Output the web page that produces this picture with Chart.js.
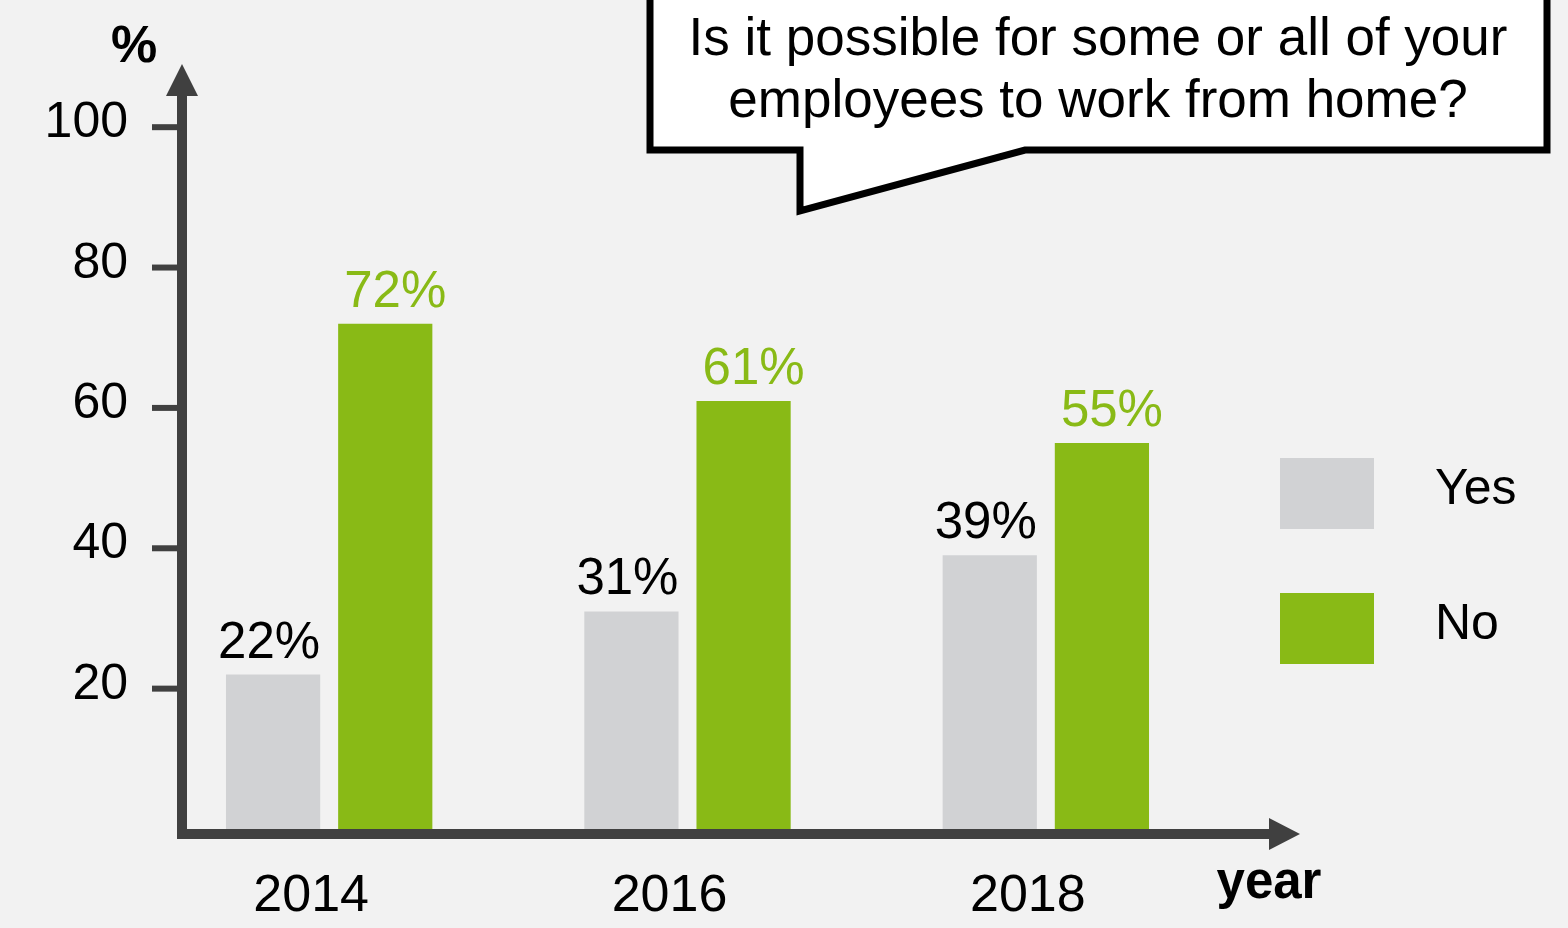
<!DOCTYPE html>
<html>
<head>
<meta charset="utf-8">
<title>Work from home</title>
<script src="https://cdn.jsdelivr.net/npm/chart.js@4/dist/chart.umd.min.js"></script>
<style>
  html, body { margin: 0; padding: 0; background: #f2f2f2; }
  canvas { display: block; }
</style>
</head>
<body>
<canvas id="myChart" width="1568" height="928"></canvas>
<script>
const years = ['2014', '2016', '2018']
const yesValues = [22, 31, 39]
const noValues = [72, 61, 55]
const yTicks = [20, 40, 60, 80, 100]
const seriesNames = ['Yes', 'No']
const questionLines = ['Is it possible for some or all of your', 'employees to work from home?']

const GRAY = '#d1d2d4'
const GREEN = '#89ba16'
const AXIS = '#404040'
const FONT = '"Liberation Sans", Arial, sans-serif'

// Background, axes with arrows, ticks, labels, legend and the speech bubble
const decorations = {
  id: 'decorations',
  beforeDraw (chart) {
    const ctx = chart.ctx
    ctx.save()
    ctx.fillStyle = '#f2f2f2'
    ctx.fillRect(0, 0, chart.width, chart.height)
    ctx.restore()
  },
  afterDatasetsDraw (chart) {
    const ctx = chart.ctx
    const xScale = chart.scales.x
    const yScale = chart.scales.y
    const area = chart.chartArea
    const axisX = area.left + 32
    const axisY = yScale.getPixelForValue(0) + 5
    const arrowEnd = area.right + 75
    const arrowTip = area.top + 7

    ctx.save()
    ctx.strokeStyle = AXIS
    ctx.fillStyle = AXIS
    ctx.lineWidth = 10
    ctx.lineCap = 'butt'

    // y axis
    ctx.beginPath()
    ctx.moveTo(axisX, axisY + 5)
    ctx.lineTo(axisX, arrowTip + 30)
    ctx.stroke()
    ctx.beginPath()
    ctx.moveTo(axisX, arrowTip)
    ctx.lineTo(axisX - 16, arrowTip + 32)
    ctx.lineTo(axisX + 16, arrowTip + 32)
    ctx.closePath()
    ctx.fill()

    // x axis
    ctx.beginPath()
    ctx.moveTo(axisX - 5, axisY)
    ctx.lineTo(arrowEnd - 30, axisY)
    ctx.stroke()
    ctx.beginPath()
    ctx.moveTo(arrowEnd, axisY)
    ctx.lineTo(arrowEnd - 31, axisY - 16)
    ctx.lineTo(arrowEnd - 31, axisY + 16)
    ctx.closePath()
    ctx.fill()

    // y ticks and labels
    ctx.lineWidth = 6
    ctx.font = '50px ' + FONT
    ctx.textAlign = 'right'
    ctx.textBaseline = 'alphabetic'
    yTicks.forEach(v => {
      const y = yScale.getPixelForValue(v)
      ctx.strokeStyle = AXIS
      ctx.beginPath()
      ctx.moveTo(axisX - 30, y)
      ctx.lineTo(axisX, y)
      ctx.stroke()
      ctx.fillStyle = '#000'
      ctx.fillText(String(v), axisX - 54, y + 10)
    })

    // category labels
    ctx.font = '52px ' + FONT
    ctx.textAlign = 'center'
    years.forEach((year, i) => {
      ctx.fillText(year, xScale.getPixelForValue(i) - 18, axisY + 77)
    })

    // axis titles
    ctx.font = 'bold 52px ' + FONT
    ctx.fillText('%', axisX - 48, 62)
    ctx.font = 'bold 51px ' + FONT
    ctx.fillText('year', arrowEnd - 31, axisY + 64)

    // value labels above bars
    ctx.font = '51px ' + FONT
    chart.data.datasets.forEach((ds, di) => {
      const meta = chart.getDatasetMeta(di)
      meta.data.forEach((bar, i) => {
        ctx.fillStyle = di === 0 ? '#000' : GREEN
        const shift = di === 0 ? -4 : 10
        ctx.fillText(ds.data[i] + '%', bar.x + shift, bar.y - 17)
      })
    })

    // legend
    const legendX = area.right + 55
    chart.data.datasets.forEach((ds, di) => {
      const top = 458 + di * 135
      ctx.fillStyle = ds.backgroundColor
      ctx.fillRect(legendX, top, 94, 71)
      ctx.fillStyle = '#000'
      ctx.textAlign = 'left'
      ctx.font = '50px ' + FONT
      ctx.fillText(ds.label, legendX + 155, top + 46)
    })
    ctx.restore()
  },
  afterDraw (chart) {
    // speech bubble with the question
    const ctx = chart.ctx
    ctx.save()
    ctx.beginPath()
    ctx.moveTo(650, -10)
    ctx.lineTo(1547, -10)
    ctx.lineTo(1547, 150)
    ctx.lineTo(1025, 150)
    ctx.lineTo(800, 211)
    ctx.lineTo(800, 150)
    ctx.lineTo(650, 150)
    ctx.closePath()
    ctx.fillStyle = '#fff'
    ctx.fill()
    ctx.lineWidth = 7
    ctx.lineJoin = 'miter'
    ctx.strokeStyle = '#000'
    ctx.stroke()

    ctx.fillStyle = '#000'
    ctx.font = '53px ' + FONT
    ctx.textAlign = 'center'
    ctx.textBaseline = 'alphabetic'
    questionLines.forEach((line, i) => {
      ctx.fillText(line, 1098, 55 + i * 62)
    })
    ctx.restore()
  }
}

const configuration = {
  type: 'bar',
  data: {
    labels: years,
    datasets: [
      {
        label: seriesNames[0],
        data: yesValues,
        backgroundColor: GRAY,
        categoryPercentage: 0.626,
        barPercentage: 0.84
      },
      {
        label: seriesNames[1],
        data: noValues,
        backgroundColor: GREEN,
        categoryPercentage: 0.626,
        barPercentage: 0.84
      }
    ]
  },
  options: {
    responsive: false,
    animation: false,
    layout: {
      padding: { left: 150, right: 343, top: 57, bottom: 99 }
    },
    scales: {
      x: { display: false, offset: true },
      y: { display: false, min: 0, max: 110 }
    },
    plugins: {
      legend: { display: false },
      tooltip: { enabled: false }
    }
  },
  plugins: [decorations]
}

const myChart = new Chart(document.getElementById('myChart').getContext('2d'), configuration)
</script>
</body>
</html>
